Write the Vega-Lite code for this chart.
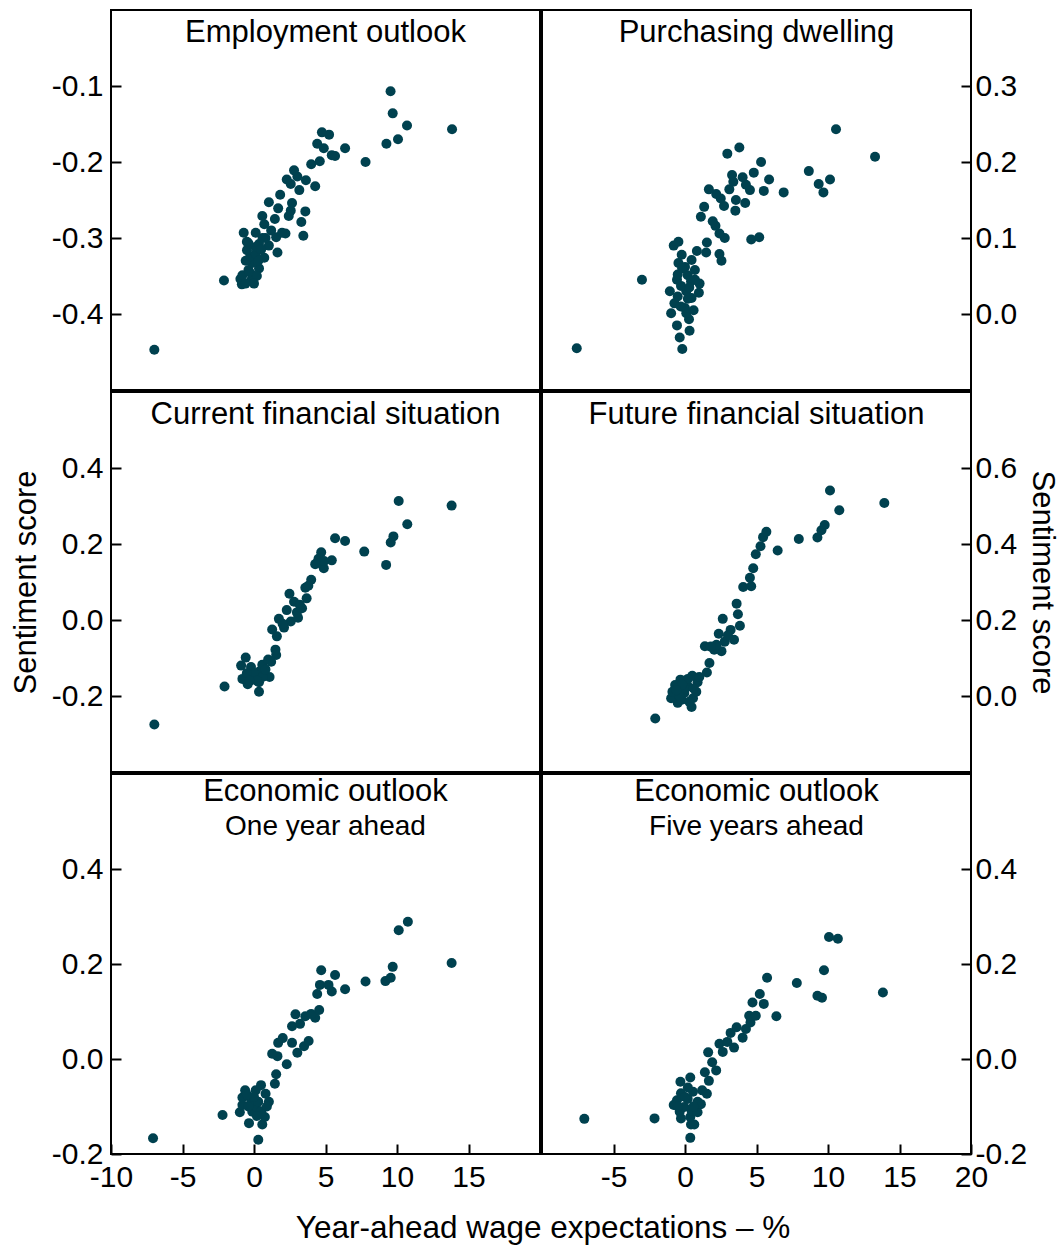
{
  "$schema": "https://vega.github.io/schema/vega-lite/v6.json",
  "padding": {"left": 9, "top": 9, "right": 0, "bottom": 0},
  "datasets": {
    "emp": [
      {"x": -6.97, "y": -0.447}, {"x": -2.1, "y": -0.356}, {"x": -0.85, "y": -0.361}, {"x": -0.95, "y": -0.354}, {"x": -0.21, "y": -0.356},
      {"x": -0.81, "y": -0.349}, {"x": -0.12, "y": -0.349}, {"x": -0.39, "y": -0.342}, {"x": 0.35, "y": -0.34}, {"x": -0.12, "y": -0.333},
      {"x": -0.58, "y": -0.33}, {"x": 0.72, "y": -0.326}, {"x": -0.26, "y": -0.324}, {"x": 0.12, "y": -0.321}, {"x": 1.64, "y": -0.319},
      {"x": -0.49, "y": -0.316}, {"x": 0.12, "y": -0.312}, {"x": 1.04, "y": -0.31}, {"x": 0.35, "y": -0.308}, {"x": -0.39, "y": -0.307},
      {"x": 0.81, "y": -0.3}, {"x": 1.55, "y": -0.299}, {"x": 3.45, "y": -0.297}, {"x": 2.2, "y": -0.294}, {"x": 0.12, "y": -0.293},
      {"x": -0.72, "y": -0.293}, {"x": 0.72, "y": -0.282}, {"x": 3.31, "y": -0.279}, {"x": 1.46, "y": -0.275}, {"x": 0.58, "y": -0.271},
      {"x": 2.43, "y": -0.271}, {"x": 2.57, "y": -0.264}, {"x": 3.59, "y": -0.265}, {"x": 1.69, "y": -0.261}, {"x": 2.66, "y": -0.254},
      {"x": 1.04, "y": -0.253}, {"x": 1.83, "y": -0.243}, {"x": 3.17, "y": -0.237}, {"x": 4.28, "y": -0.232}, {"x": 2.57, "y": -0.229},
      {"x": 3.63, "y": -0.224}, {"x": 2.29, "y": -0.223}, {"x": 3.03, "y": -0.219}, {"x": 2.8, "y": -0.211}, {"x": 4.0, "y": -0.203},
      {"x": 4.6, "y": -0.199}, {"x": 5.67, "y": -0.192}, {"x": 5.44, "y": -0.191}, {"x": 6.37, "y": -0.182}, {"x": 4.88, "y": -0.182},
      {"x": 4.42, "y": -0.176}, {"x": 5.25, "y": -0.164}, {"x": 4.75, "y": -0.161}, {"x": 7.8, "y": -0.2}, {"x": 9.26, "y": -0.176},
      {"x": 10.07, "y": -0.17}, {"x": 13.85, "y": -0.157}, {"x": 10.7, "y": -0.152}, {"x": 9.7, "y": -0.136}, {"x": 9.55, "y": -0.107},
      {"x": 0.3, "y": -0.33}, {"x": 0.5, "y": -0.315}, {"x": -0.3, "y": -0.345}, {"x": 0.2, "y": -0.35}, {"x": 0.6, "y": -0.3},
      {"x": 1.2, "y": -0.29}, {"x": -0.5, "y": -0.305}, {"x": 0.0, "y": -0.36}, {"x": -0.6, "y": -0.36}, {"x": 1.96, "y": -0.293}
    ],
    "dwell": [
      {"x": -7.57, "y": -0.045}, {"x": -3.01, "y": 0.045}, {"x": -0.19, "y": -0.046}, {"x": -0.37, "y": -0.031}, {"x": 0.32, "y": -0.022},
      {"x": -0.56, "y": -0.015}, {"x": 0.28, "y": -0.007}, {"x": -0.97, "y": 0.001}, {"x": 0.09, "y": 0.001}, {"x": 0.6, "y": 0.005},
      {"x": 0.0, "y": 0.008}, {"x": -0.74, "y": 0.014}, {"x": 0.46, "y": 0.021}, {"x": -0.51, "y": 0.023}, {"x": 0.97, "y": 0.028},
      {"x": 0.09, "y": 0.03}, {"x": -1.06, "y": 0.03}, {"x": -0.28, "y": 0.037}, {"x": 1.02, "y": 0.04}, {"x": 0.42, "y": 0.043},
      {"x": -0.56, "y": 0.045}, {"x": 0.19, "y": 0.051}, {"x": -0.51, "y": 0.052}, {"x": 0.69, "y": 0.058}, {"x": 0.0, "y": 0.062},
      {"x": -0.46, "y": 0.067}, {"x": 0.46, "y": 0.071}, {"x": 2.55, "y": 0.07}, {"x": 2.41, "y": 0.079}, {"x": -0.23, "y": 0.078},
      {"x": 1.48, "y": 0.081}, {"x": 0.83, "y": 0.083}, {"x": 1.53, "y": 0.094}, {"x": -0.79, "y": 0.09}, {"x": -0.46, "y": 0.095},
      {"x": 4.63, "y": 0.098}, {"x": 5.19, "y": 0.101}, {"x": 2.78, "y": 0.1}, {"x": 2.41, "y": 0.106}, {"x": 2.13, "y": 0.116},
      {"x": 1.94, "y": 0.122}, {"x": 1.11, "y": 0.128}, {"x": 3.52, "y": 0.136}, {"x": 1.34, "y": 0.141}, {"x": 2.73, "y": 0.142},
      {"x": 4.21, "y": 0.146}, {"x": 3.56, "y": 0.15}, {"x": 2.5, "y": 0.152}, {"x": 2.18, "y": 0.158}, {"x": 1.67, "y": 0.164},
      {"x": 6.9, "y": 0.16}, {"x": 5.51, "y": 0.162}, {"x": 4.54, "y": 0.163}, {"x": 3.1, "y": 0.164}, {"x": 4.26, "y": 0.17},
      {"x": 3.38, "y": 0.174}, {"x": 5.88, "y": 0.177}, {"x": 4.03, "y": 0.18}, {"x": 3.29, "y": 0.183}, {"x": 4.81, "y": 0.186},
      {"x": 5.32, "y": 0.2}, {"x": 2.96, "y": 0.211}, {"x": 3.8, "y": 0.219}, {"x": 9.68, "y": 0.16}, {"x": 9.35, "y": 0.171},
      {"x": 10.14, "y": 0.177}, {"x": 8.66, "y": 0.188}, {"x": 13.29, "y": 0.207}, {"x": 10.56, "y": 0.243},
      {"x": 0.2, "y": 0.02}, {"x": -0.2, "y": 0.06}, {"x": 0.3, "y": 0.035}, {"x": 0.7, "y": 0.045}, {"x": -0.3, "y": 0.01}
    ],
    "curr": [
      {"x": -6.97, "y": -0.275}, {"x": -2.06, "y": -0.175}, {"x": 0.35, "y": -0.189}, {"x": -0.44, "y": -0.169}, {"x": 0.35, "y": -0.164},
      {"x": -0.81, "y": -0.155}, {"x": -0.12, "y": -0.153}, {"x": 1.09, "y": -0.15}, {"x": 0.35, "y": -0.136}, {"x": -0.21, "y": -0.124},
      {"x": -0.9, "y": -0.12}, {"x": 0.58, "y": -0.118}, {"x": 0.99, "y": -0.104}, {"x": -0.58, "y": -0.099}, {"x": 1.55, "y": -0.092},
      {"x": 1.5, "y": -0.078}, {"x": 1.6, "y": -0.043}, {"x": 1.27, "y": -0.025}, {"x": 2.1, "y": -0.02}, {"x": 2.57, "y": -0.004},
      {"x": 1.74, "y": 0.003}, {"x": 3.08, "y": 0.006}, {"x": 2.29, "y": 0.026}, {"x": 3.36, "y": 0.031}, {"x": 2.8, "y": 0.048},
      {"x": 3.68, "y": 0.057}, {"x": 2.48, "y": 0.069}, {"x": 3.59, "y": 0.085}, {"x": 4.0, "y": 0.106}, {"x": 4.88, "y": 0.136},
      {"x": 4.28, "y": 0.147}, {"x": 5.44, "y": 0.157}, {"x": 4.51, "y": 0.161}, {"x": 4.7, "y": 0.178}, {"x": 6.37, "y": 0.208},
      {"x": 5.67, "y": 0.215}, {"x": 7.71, "y": 0.18}, {"x": 9.24, "y": 0.145}, {"x": 9.56, "y": 0.204}, {"x": 9.75, "y": 0.22},
      {"x": 10.72, "y": 0.252}, {"x": 13.82, "y": 0.301}, {"x": 10.12, "y": 0.313},
      {"x": 0.0, "y": -0.14}, {"x": -0.5, "y": -0.14}, {"x": 0.6, "y": -0.15}, {"x": 0.2, "y": -0.16}, {"x": -0.3, "y": -0.16},
      {"x": 0.8, "y": -0.13}, {"x": 1.2, "y": -0.11}, {"x": 3.2, "y": 0.04}, {"x": 2.0, "y": -0.01}, {"x": 3.0, "y": 0.02},
      {"x": 4.4, "y": 0.15}, {"x": 4.9, "y": 0.155}, {"x": 3.8, "y": 0.09}
    ],
    "fut": [
      {"x": -2.08, "y": -0.059}, {"x": 0.46, "y": -0.029}, {"x": -0.51, "y": -0.018}, {"x": -0.23, "y": -0.01}, {"x": -0.97, "y": -0.006},
      {"x": 0.56, "y": -0.006}, {"x": -0.88, "y": 0.011}, {"x": -0.05, "y": 0.008}, {"x": 0.79, "y": 0.011}, {"x": 0.19, "y": 0.026},
      {"x": -0.69, "y": 0.029}, {"x": 0.88, "y": 0.036}, {"x": -0.32, "y": 0.043}, {"x": 0.51, "y": 0.053}, {"x": 1.53, "y": 0.062},
      {"x": 1.71, "y": 0.087}, {"x": 2.55, "y": 0.118}, {"x": 2.04, "y": 0.122}, {"x": 1.39, "y": 0.131}, {"x": 2.78, "y": 0.143},
      {"x": 3.43, "y": 0.148}, {"x": 2.36, "y": 0.164}, {"x": 3.19, "y": 0.174}, {"x": 3.84, "y": 0.185}, {"x": 2.64, "y": 0.203},
      {"x": 3.7, "y": 0.215}, {"x": 3.61, "y": 0.243}, {"x": 4.07, "y": 0.287}, {"x": 4.63, "y": 0.289}, {"x": 4.54, "y": 0.311},
      {"x": 4.77, "y": 0.336}, {"x": 4.95, "y": 0.373}, {"x": 5.28, "y": 0.394}, {"x": 5.46, "y": 0.418}, {"x": 5.69, "y": 0.432},
      {"x": 6.48, "y": 0.383}, {"x": 7.96, "y": 0.413}, {"x": 9.26, "y": 0.417}, {"x": 9.54, "y": 0.436}, {"x": 9.77, "y": 0.45},
      {"x": 10.79, "y": 0.489}, {"x": 13.94, "y": 0.508}, {"x": 10.14, "y": 0.541},
      {"x": 0.0, "y": 0.02}, {"x": -0.4, "y": 0.0}, {"x": 0.3, "y": -0.015}, {"x": 0.2, "y": 0.045}, {"x": -0.2, "y": 0.03},
      {"x": 0.6, "y": 0.02}, {"x": 1.0, "y": 0.05}, {"x": 2.2, "y": 0.135}, {"x": 1.8, "y": 0.13}, {"x": 3.0, "y": 0.16}, {"x": -0.6, "y": 0.015}
    ],
    "e1": [
      {"x": -7.06, "y": -0.167}, {"x": 0.3, "y": -0.17}, {"x": -2.2, "y": -0.118}, {"x": -0.35, "y": -0.135}, {"x": 0.58, "y": -0.138},
      {"x": 0.76, "y": -0.122}, {"x": -0.99, "y": -0.112}, {"x": -0.12, "y": -0.111}, {"x": 0.12, "y": -0.1}, {"x": -0.81, "y": -0.097},
      {"x": 1.04, "y": -0.09}, {"x": -0.21, "y": -0.086}, {"x": -0.81, "y": -0.081}, {"x": 0.81, "y": -0.073}, {"x": -0.62, "y": -0.066},
      {"x": 0.12, "y": -0.066}, {"x": 0.49, "y": -0.055}, {"x": 1.46, "y": -0.052}, {"x": 1.55, "y": -0.032}, {"x": 2.29, "y": -0.011},
      {"x": 1.64, "y": 0.006}, {"x": 1.27, "y": 0.011}, {"x": 3.03, "y": 0.013}, {"x": 3.5, "y": 0.027}, {"x": 1.69, "y": 0.034},
      {"x": 2.66, "y": 0.034}, {"x": 3.82, "y": 0.038}, {"x": 2.01, "y": 0.044}, {"x": 2.66, "y": 0.069}, {"x": 3.22, "y": 0.074},
      {"x": 4.28, "y": 0.087}, {"x": 3.59, "y": 0.09}, {"x": 2.9, "y": 0.094}, {"x": 4.0, "y": 0.095}, {"x": 4.56, "y": 0.103},
      {"x": 4.42, "y": 0.137}, {"x": 5.44, "y": 0.142}, {"x": 4.61, "y": 0.156}, {"x": 5.21, "y": 0.156}, {"x": 5.67, "y": 0.177},
      {"x": 4.7, "y": 0.187}, {"x": 6.37, "y": 0.147}, {"x": 7.8, "y": 0.163}, {"x": 9.19, "y": 0.164}, {"x": 9.56, "y": 0.171},
      {"x": 9.7, "y": 0.194}, {"x": 13.82, "y": 0.202}, {"x": 10.12, "y": 0.271}, {"x": 10.76, "y": 0.289},
      {"x": 0.3, "y": -0.09}, {"x": -0.4, "y": -0.1}, {"x": 0.5, "y": -0.11}, {"x": 0.0, "y": -0.08}, {"x": -0.5, "y": -0.075},
      {"x": 0.9, "y": -0.1}, {"x": 0.2, "y": -0.12}
    ],
    "e5": [
      {"x": -7.04, "y": -0.126}, {"x": -2.13, "y": -0.125}, {"x": 0.37, "y": -0.166}, {"x": 0.42, "y": -0.138}, {"x": 0.65, "y": -0.138},
      {"x": -0.28, "y": -0.125}, {"x": 0.37, "y": -0.122}, {"x": -0.37, "y": -0.111}, {"x": 0.46, "y": -0.109}, {"x": 0.88, "y": -0.112},
      {"x": -0.05, "y": -0.101}, {"x": -0.79, "y": -0.097}, {"x": 1.11, "y": -0.095}, {"x": 0.88, "y": -0.09}, {"x": -0.56, "y": -0.087},
      {"x": 0.19, "y": -0.084}, {"x": 1.53, "y": -0.073}, {"x": -0.28, "y": -0.072}, {"x": 0.56, "y": -0.069}, {"x": 1.2, "y": -0.066},
      {"x": -0.32, "y": -0.048}, {"x": 1.67, "y": -0.046}, {"x": 0.37, "y": -0.039}, {"x": 1.39, "y": -0.028}, {"x": 2.18, "y": -0.024},
      {"x": 1.9, "y": -0.007}, {"x": 1.62, "y": 0.014}, {"x": 2.64, "y": 0.015}, {"x": 3.43, "y": 0.024}, {"x": 2.41, "y": 0.032},
      {"x": 2.96, "y": 0.036}, {"x": 4.03, "y": 0.045}, {"x": 3.19, "y": 0.055}, {"x": 4.26, "y": 0.063}, {"x": 3.61, "y": 0.067},
      {"x": 4.58, "y": 0.077}, {"x": 4.49, "y": 0.091}, {"x": 4.95, "y": 0.091}, {"x": 6.39, "y": 0.09}, {"x": 5.51, "y": 0.116},
      {"x": 4.72, "y": 0.119}, {"x": 5.23, "y": 0.137}, {"x": 9.26, "y": 0.133}, {"x": 9.58, "y": 0.129}, {"x": 13.84, "y": 0.14},
      {"x": 7.82, "y": 0.16}, {"x": 5.74, "y": 0.171}, {"x": 9.72, "y": 0.187}, {"x": 10.07, "y": 0.257}, {"x": 10.69, "y": 0.253},
      {"x": 0.0, "y": -0.08}, {"x": -0.5, "y": -0.1}, {"x": 0.6, "y": -0.1}, {"x": 0.2, "y": -0.06}
    ]
  },
  "title": {
    "text": "Year-ahead wage expectations – %",
    "orient": "bottom",
    "anchor": "middle",
    "baseline": "top",
    "font": "Liberation Sans",
    "fontSize": 31.5,
    "fontWeight": "normal",
    "color": "black",
    "offset": 20,
    "dx": 9
  },
  "columns": 2,
  "spacing": 0,
  "concat": [
    {
      "width": 429, "height": 380,
      "data": {"name": "emp"},
      "title": {"text": "Employment outlook", "baseline": "top", "offset": -39, "frame": "group"},
      "mark": {"type": "point", "filled": true, "size": 100, "color": "#00414f", "opacity": 1},
      "encoding": {
        "x": {"field": "x", "type": "quantitative", "scale": {"domain": [-10, 20], "nice": false, "zero": false}, "axis": null},
        "y": {"field": "y", "type": "quantitative", "scale": {"domain": [-0.5, 0.0], "nice": false, "zero": false},
              "axis": {"orient": "left", "values": [-0.4, -0.3, -0.2, -0.1], "title": null, "labelPadding": 18}}
      }
    },
    {
      "width": 429, "height": 380,
      "data": {"name": "dwell"},
      "title": {"text": "Purchasing dwelling", "baseline": "top", "offset": -39, "frame": "group"},
      "mark": {"type": "point", "filled": true, "size": 100, "color": "#00414f", "opacity": 1},
      "encoding": {
        "x": {"field": "x", "type": "quantitative", "scale": {"domain": [-10, 20], "nice": false, "zero": false}, "axis": null},
        "y": {"field": "y", "type": "quantitative", "scale": {"domain": [-0.1, 0.4], "nice": false, "zero": false},
              "axis": {"orient": "right", "values": [0.0, 0.1, 0.2, 0.3], "title": null, "labelPadding": 14}}
      }
    },
    {
      "width": 429, "height": 380,
      "data": {"name": "curr"},
      "title": {"text": "Current financial situation", "baseline": "top", "offset": -39, "frame": "group"},
      "mark": {"type": "point", "filled": true, "size": 100, "color": "#00414f", "opacity": 1},
      "encoding": {
        "x": {"field": "x", "type": "quantitative", "scale": {"domain": [-10, 20], "nice": false, "zero": false}, "axis": null},
        "y": {"field": "y", "type": "quantitative", "scale": {"domain": [-0.4, 0.6], "nice": false, "zero": false},
              "axis": {"orient": "left", "values": [-0.2, 0.0, 0.2, 0.4], "title": "Sentiment score", "labelPadding": 18}}
      }
    },
    {
      "width": 429, "height": 380,
      "data": {"name": "fut"},
      "title": {"text": "Future financial situation", "baseline": "top", "offset": -39, "frame": "group"},
      "mark": {"type": "point", "filled": true, "size": 100, "color": "#00414f", "opacity": 1},
      "encoding": {
        "x": {"field": "x", "type": "quantitative", "scale": {"domain": [-10, 20], "nice": false, "zero": false}, "axis": null},
        "y": {"field": "y", "type": "quantitative", "scale": {"domain": [-0.2, 0.8], "nice": false, "zero": false},
              "axis": {"orient": "right", "values": [0.0, 0.2, 0.4, 0.6], "title": "Sentiment score", "labelPadding": 14}}
      }
    },
    {
      "width": 429, "height": 380,
      "data": {"name": "e1"},
      "title": {"text": "Economic outlook", "subtitle": "One year ahead", "baseline": "top", "offset": -68, "frame": "group"},
      "mark": {"type": "point", "filled": true, "size": 100, "color": "#00414f", "opacity": 1},
      "encoding": {
        "x": {"field": "x", "type": "quantitative", "scale": {"domain": [-10, 20], "nice": false, "zero": false},
              "axis": {"orient": "bottom", "values": [-10, -5, 0, 5, 10, 15], "title": null, "format": "d", "labelPadding": 18}},
        "y": {"field": "y", "type": "quantitative", "scale": {"domain": [-0.2, 0.6], "nice": false, "zero": false},
              "axis": {"orient": "left", "values": [-0.2, 0.0, 0.2, 0.4], "title": null, "labelPadding": 18}}
      }
    },
    {
      "width": 429, "height": 380,
      "data": {"name": "e5"},
      "title": {"text": "Economic outlook", "subtitle": "Five years ahead", "baseline": "top", "offset": -68, "frame": "group"},
      "mark": {"type": "point", "filled": true, "size": 100, "color": "#00414f", "opacity": 1},
      "encoding": {
        "x": {"field": "x", "type": "quantitative", "scale": {"domain": [-10, 20], "nice": false, "zero": false},
              "axis": {"orient": "bottom", "values": [-5, 0, 5, 10, 15, 20], "title": null, "format": "d", "labelPadding": 18}},
        "y": {"field": "y", "type": "quantitative", "scale": {"domain": [-0.2, 0.6], "nice": false, "zero": false},
              "axis": {"orient": "right", "values": [-0.2, 0.0, 0.2, 0.4], "title": null, "labelPadding": 14}}
      }
    }
  ],
  "config": {
    "font": "Liberation Sans",
    "view": {"stroke": "black", "strokeWidth": 2},
    "axis": {
      "domain": false, "grid": false,
      "ticks": true, "tickColor": "black", "tickWidth": 2, "tickSize": -10,
      "labelFont": "Liberation Sans", "labelFontSize": 30, "labelColor": "black",
      "labelFlush": false, "labelOverlap": false, "labelBound": false,
      "titleFont": "Liberation Sans", "titleFontSize": 31, "titleFontWeight": "normal", "titleColor": "black", "titlePadding": 9
    },
    "axisY": {"format": ".1f", "labelExpr": "replace(datum.label, '\u2212', '-')"},
    "axisX": {"labelExpr": "replace(datum.label, '\u2212', '-')"},
    "title": {
      "font": "Liberation Sans", "fontSize": 31, "fontWeight": "normal", "color": "black", "anchor": "middle",
      "subtitleFont": "Liberation Sans", "subtitleFontSize": 28, "subtitleColor": "black", "subtitlePadding": 5
    }
  }
}
